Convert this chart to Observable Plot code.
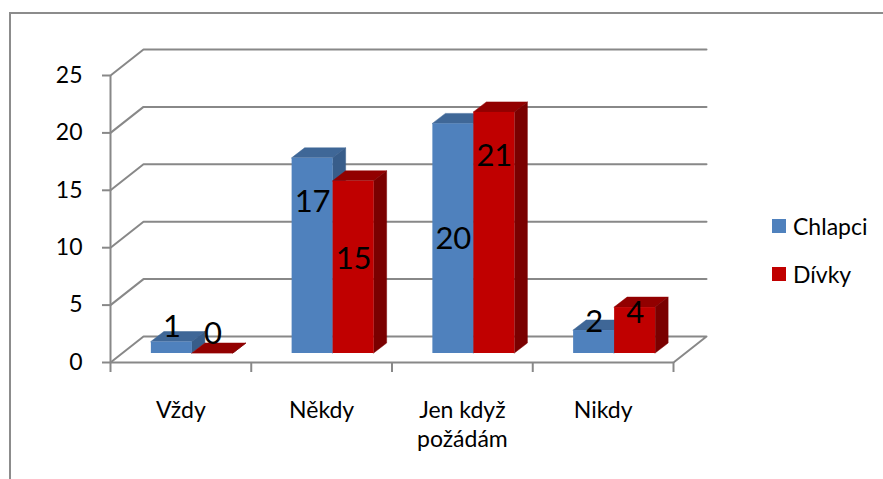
<!DOCTYPE html>
<html><head><meta charset="utf-8">
<script src="https://cdn.jsdelivr.net/npm/d3@7"></script>
<script src="https://cdn.jsdelivr.net/npm/@observablehq/plot@0.6"></script>
<style>
html,body{margin:0;padding:0;background:#fff;}
#wrap{position:relative;width:883px;height:479px;overflow:hidden;font-family:Lato,sans-serif;color:#000;}
#frame{position:absolute;left:9px;top:12px;width:900px;height:500px;border-left:2px solid #8c8c8c;border-top:2px solid #8c8c8c;box-sizing:border-box;}
#chart{position:absolute;left:0;top:0;}
.lg{position:absolute;}
.sw{position:absolute;width:14px;height:14px;}
.lt{position:absolute;font-size:23px;line-height:1;white-space:nowrap;transform:translateY(-50%);}
</style></head>
<body><div id="wrap"><div id="frame"></div><div id="chart"></div><div id="legend"></div></div>
<script>
// ---- data ----
const categories = ["Vždy", "Někdy", "Jen když\npožádám", "Nikdy"];
const seriesNames = ["Chlapci", "Dívky"];
const chlapci = [1, 17, 20, 2];
const divky = [0, 15, 21, 4];
const yTicks = [0, 5, 10, 15, 20, 25];
// where each data label sits (in value units on the bar face)
const chlapciLabelAt = [2.3, 13.2, 10.0, 2.75];
const divkyLabelAt = [1.7, 8.25, 17.2, 3.5];

// ---- layout / style ----
const W = 883, H = 479, mL = 110, mR = 210, mT = 75, mB = 117;
const nCat = categories.length, yMax = 25;
const ux = (W - mL - mR) / nCat, uy = (H - mT - mB) / yMax;
const wall = {dx: 33, dy: 26};       // depth of back wall (px right / up)
const barFront = {dx: 11.5, dy: 9};  // bar front plane offset
const barDepth = {dx: 13, dy: 10};   // bar thickness
const barW = 41;                     // bar width px
const colors = [
  {front: "#4F81BD", top: "#3F6797", side: "#385D8A"},
  {front: "#C00000", top: "#920000", side: "#7A0000"}
];
const gridColor = "#888888";

const ox = (o) => o.dx / ux, oy = (o) => o.dy / uy;
const bw = barW / ux;
const series = [chlapci, divky];
const labelsAt = [chlapciLabelAt, divkyLabelAt];

const bars = [];
categories.forEach((c, i) => {
  series.forEach((vals, s) => {
    const center = i + 0.5;
    const a = s === 0 ? center - bw : center;
    const b = s === 0 ? center : center + bw;
    bars.push({id: i * 2 + s, s, v: vals[i], a, b, lab: labelsAt[s][i]});
  });
});

const fx = ox(barFront), fy = oy(barFront), dx = ox(barDepth), dy = oy(barDepth);

const tops = bars.flatMap(d => [
  {id: d.id, s: d.s, y: d.v + fy, x1: d.a + fx, x2: d.b + fx},
  {id: d.id, s: d.s, y: d.v + fy + dy, x1: d.a + fx + dx, x2: d.b + fx + dx}
]);
const sides = bars.flatMap(d => [
  {id: d.id, s: d.s, x: d.b + fx, y1: fy, y2: d.v + fy},
  {id: d.id, s: d.s, x: d.b + fx + dx, y1: fy + dy, y2: d.v + fy + dy}
]);

const gx = ox(wall), gy = oy(wall);
const grid = yTicks.flatMap(t => {
  const pts = [
    {t, x: 0, y: t},
    {t, x: gx, y: t + gy},
    {t, x: nCat + gx, y: t + gy}
  ];
  if (t === 0) pts.push({t, x: nCat, y: 0});
  return pts;
});

const barMarks = [0, 1].flatMap(s => {
  const c = colors[s];
  return [
    Plot.areaX(tops.filter(d => d.s === s), {y: "y", x1: "x1", x2: "x2", z: "id", fill: c.top, stroke: c.top, strokeWidth: 0.5}),
    Plot.areaY(sides.filter(d => d.s === s), {x: "x", y1: "y1", y2: "y2", z: "id", fill: c.side, stroke: c.side, strokeWidth: 0.5}),
    Plot.rect(bars.filter(d => d.s === s), {x1: d => d.a + fx, x2: d => d.b + fx, y1: fy, y2: d => d.v + fy, fill: c.front})
  ];
});

const chart = Plot.plot({
  width: W, height: H,
  marginLeft: mL, marginRight: mR, marginTop: mT, marginBottom: mB,
  x: {type: "linear", domain: [0, nCat], axis: null},
  y: {type: "linear", domain: [0, yMax], axis: null},
  style: {fontFamily: "Lato, sans-serif", fontSize: "23px", color: "#000", background: "transparent", overflow: "visible"},
  marks: [
    Plot.line(grid, {x: "x", y: "y", z: "t", stroke: gridColor, strokeWidth: 2}),
    Plot.ruleX([0], {y1: 0, y2: yMax, stroke: gridColor, strokeWidth: 2}),
    Plot.ruleY([0], {x1: 0, x2: nCat, stroke: gridColor, strokeWidth: 2}),
    Plot.axisY({ticks: yTicks, tickSize: 8, tickPadding: 20, stroke: gridColor, strokeWidth: 2, fontSize: 23, fill: "#000", tickFormat: d => String(d)}),
    Plot.axisX({ticks: d3.range(nCat + 1), tickSize: 10, stroke: gridColor, strokeWidth: 2, tickFormat: () => ""}),
    ...barMarks,
    Plot.text(categories, {x: (d, i) => i + 0.5, frameAnchor: "bottom", lineAnchor: "top", dy: 35, fontSize: 23, lineHeight: 1.26, fill: "#000"}),
    Plot.text(bars, {x: d => (d.a + d.b) / 2 + fx, y: d => d.lab + fy, text: d => String(d.v), fontSize: 31, fill: "#000"})
  ]
});
document.getElementById("chart").appendChild(chart);

// legend
const lg = document.getElementById("legend");
seriesNames.forEach((name, s) => {
  const cy = 226 + s * 48;
  const sw = document.createElement("div");
  sw.className = "sw";
  sw.style.left = "772px"; sw.style.top = (cy - 7) + "px"; sw.style.background = colors[s].front;
  const t = document.createElement("div");
  t.className = "lt";
  t.style.left = "793px"; t.style.top = cy + "px";
  t.textContent = name;
  lg.appendChild(sw); lg.appendChild(t);
});
</script>
</body></html>
